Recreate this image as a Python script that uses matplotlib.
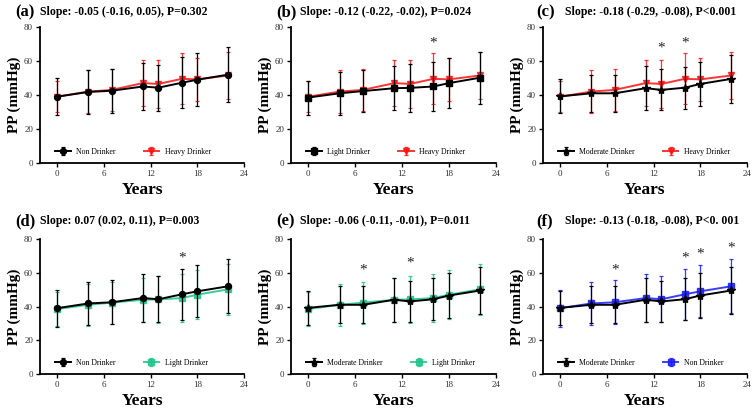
import matplotlib
matplotlib.use("Agg")
import matplotlib.pyplot as plt

years = [0, 4, 7, 11, 13, 16, 18, 22]
non_mean = [39.0, 41.8, 42.5, 45.0, 44.3, 47.2, 49.0, 52.0]
non_sd = [11.0, 13.0, 13.0, 14.0, 13.5, 15.0, 15.5, 16.0]
heavy_mean = [39.0, 42.0, 43.0, 47.0, 46.5, 49.5, 49.2, 51.5]
heavy_sd = [9.0, 12.5, 12.5, 13.5, 14.0, 15.0, 12.5, 13.8]
light_mean = [38.5, 41.0, 42.3, 44.0, 44.2, 45.0, 47.0, 50.2]
light_sd = [10.0, 12.5, 12.5, 13.0, 14.0, 14.3, 14.5, 15.2]
mod_mean = [39.2, 41.0, 41.0, 44.0, 43.0, 44.3, 46.5, 49.5]
mod_sd = [10.0, 11.0, 11.0, 13.0, 12.0, 12.3, 13.2, 14.0]

series = {
    "Non Drinker": (non_mean, non_sd),
    "Heavy Drinker": (heavy_mean, heavy_sd),
    "Light Drinker": (light_mean, light_sd),
    "Moderate Drinker": (mod_mean, mod_sd),
}

panel_labels = ["(a)", "(b)", "(c)", "(d)", "(e)", "(f)"]
slope_texts = [
    "Slope: -0.05 (-0.16, 0.05), P=0.302",
    "Slope: -0.12 (-0.22, -0.02), P=0.024",
    "Slope: -0.18 (-0.29, -0.08), P<0.001",
    "Slope: 0.07 (0.02, 0.11), P=0.003",
    "Slope: -0.06 (-0.11, -0.01), P=0.011",
    "Slope: -0.13 (-0.18, -0.08), P<0. 001",
]
pairs = [
    ("Non Drinker", "Heavy Drinker"),
    ("Light Drinker", "Heavy Drinker"),
    ("Moderate Drinker", "Heavy Drinker"),
    ("Non Drinker", "Light Drinker"),
    ("Moderate Drinker", "Light Drinker"),
    ("Moderate Drinker", "Non Drinker"),
]
star_x = [[], [16], [13, 16], [16], [7, 13], [7, 16, 18, 22]]
star_y = [[], [70.5], [67.5, 70.5], [69], [61.5, 65.5], [61.5, 68.5, 71, 74.5]]

styles = [
    (("black", "o"), ("#ff1010", "v")),
    (("black", "s"), ("#ff1010", "v")),
    (("black", "*"), ("#ff1010", "v")),
    (("black", "o"), ("#1dc48a", "s")),
    (("black", "*"), ("#1dc48a", "s")),
    (("black", "*"), ("#1a1aff", "s")),
]

W, H = 754, 408
fig = plt.figure(figsize=(W / 100, H / 100), dpi=100)
serif = ["Liberation Serif", "DejaVu Serif"]
plt.rcParams["font.family"] = serif

lefts = [40, 291, 543]
rights = [244, 496, 747]
tops = [27, 239]
bottoms = [163, 374]
title_x = [(15, 40), (276, 300), (536, 565)]
title_y = [12, 221]

for i in range(6):
    r, c = divmod(i, 3)
    l, rt = lefts[c], rights[c]
    t, b = tops[r], bottoms[r]
    ax = fig.add_axes([l / W, 1 - b / H, (rt - l) / W, (b - t) / H])
    nameA, nameB = pairs[i]
    (colA, mkA), (colB, mkB) = styles[i]
    mA, sA = series[nameA]
    mB, sB = series[nameB]
    msA = 6 if mkA == "*" else 4.3
    ax.errorbar(years, mA, yerr=sA, color=colA, marker=mkA, ms=msA, lw=1.4,
                elinewidth=0.9, capsize=1.6, capthick=0.9, label=nameA, zorder=3)
    ax.errorbar(years, mB, yerr=sB, color=colB, marker=mkB, ms=4.3, lw=1.4,
                elinewidth=0.9, capsize=1.6, capthick=0.9, label=nameB, zorder=2,
                alpha=0.85)
    for sx, sy in zip(star_x[i], star_y[i]):
        ax.text(sx, sy, "*", ha="center", va="center", fontsize=11, color="#222222")
    ax.set_xlim(-2.2, 24)
    ax.set_ylim(0, 80)
    ax.set_xticks([0, 6, 12, 18, 24])
    ax.set_yticks([0, 20, 40, 60, 80])
    ax.spines["top"].set_visible(False)
    ax.spines["right"].set_visible(False)
    ax.spines["left"].set_linewidth(1.3)
    ax.spines["bottom"].set_linewidth(1.3)
    ax.tick_params(axis="both", labelsize=6.5, length=3, width=1, labelcolor="#333333",
                   pad=2)
    ax.set_xlabel("Years", fontsize=12.5, fontweight="bold", labelpad=3)
    ax.set_ylabel("PP (mmHg)", fontsize=11, fontweight="bold", labelpad=2)
    ax.legend(ncol=2, loc="lower left", bbox_to_anchor=(0.04, 0.0), frameon=False,
              fontsize=5.6, columnspacing=3.6, handlelength=2.0, handletextpad=0.7)
    tx1, tx2 = title_x[c]
    ty = title_y[r]
    fig.text(tx1 / W, 1 - ty / H, panel_labels[i], fontsize=12, fontweight="bold",
             va="center", ha="left")
    fig.text(tx2 / W, 1 - ty / H, slope_texts[i], fontsize=8.5, fontweight="bold",
             va="center", ha="left")

fig.savefig("out.png", dpi=100)
